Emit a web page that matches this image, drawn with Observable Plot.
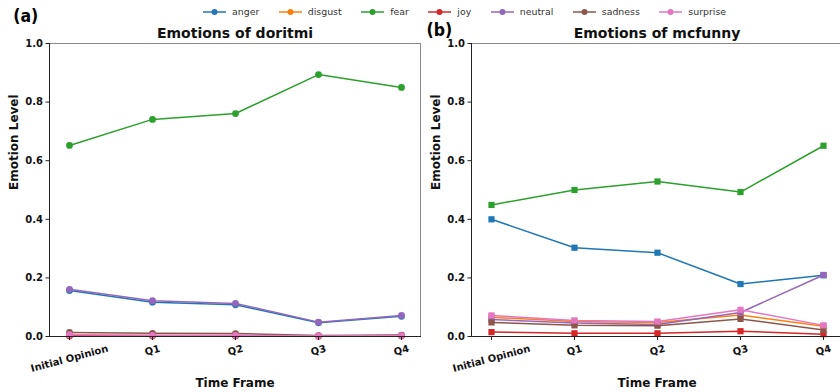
<!DOCTYPE html>
<html><head><meta charset="utf-8">
<script src="https://cdn.jsdelivr.net/npm/d3@7"></script>
<script src="https://cdn.jsdelivr.net/npm/@observablehq/plot@0.6"></script>
<style>
body{margin:0;background:#fff}
#wrap{position:relative;width:840px;height:392px;overflow:hidden;background:#fff}
#wrap > svg{position:absolute;top:0}
#legend{position:absolute;left:203px;top:6px;display:flex;align-items:center;font-family:"DejaVu Sans";font-size:9.4px;color:#333;line-height:12px;z-index:2}
#legend .item{display:flex;align-items:center;margin-right:19.5px}
#legend svg{margin-right:6px;display:block}
</style></head>
<body><div id="wrap"><div id="legend"></div></div>
<script>
const timeFrames = ["Initial Opinion", "Q1", "Q2", "Q3", "Q4"];
const emotions = ["anger", "disgust", "fear", "joy", "neutral", "sadness", "surprise"];
const emotionColors = ["#1f77b4", "#ff7f0e", "#2ca02c", "#d62728", "#9467bd", "#8c564b", "#e377c2"];
const yTicks = [0, 0.2, 0.4, 0.6, 0.8, 1.0];
const panelLetters = ["(a)", "(b)"];
const panelTitles = ["Emotions of doritmi", "Emotions of mcfunny"];
const xLabel = "Time Frame";
const yLabel = "Emotion Level";

// doritmi (panel a)
const doritmiAnger    = [0.157, 0.117, 0.108, 0.047, 0.069];
const doritmiDisgust  = [0.004, 0.003, 0.003, 0.002, 0.003];
const doritmiFear     = [0.652, 0.741, 0.761, 0.894, 0.850];
const doritmiJoy      = [0.002, 0.002, 0.002, 0.001, 0.002];
const doritmiNeutral  = [0.161, 0.122, 0.113, 0.049, 0.072];
const doritmiSadness  = [0.014, 0.011, 0.010, 0.003, 0.005];
const doritmiSurprise = [0.006, 0.004, 0.004, 0.002, 0.003];

// mcfunny (panel b)
const mcfunnyAnger    = [0.400, 0.303, 0.286, 0.179, 0.209];
const mcfunnyDisgust  = [0.066, 0.051, 0.048, 0.073, 0.035];
const mcfunnyFear     = [0.449, 0.500, 0.529, 0.493, 0.651];
const mcfunnyJoy      = [0.015, 0.011, 0.011, 0.018, 0.008];
const mcfunnyNeutral  = [0.058, 0.046, 0.041, 0.082, 0.210];
const mcfunnySadness  = [0.048, 0.038, 0.037, 0.060, 0.022];
const mcfunnySurprise = [0.072, 0.055, 0.051, 0.091, 0.038];

const doritmiSeries = [doritmiAnger, doritmiDisgust, doritmiFear, doritmiJoy, doritmiNeutral, doritmiSadness, doritmiSurprise];
const mcfunnySeries = [mcfunnyAnger, mcfunnyDisgust, mcfunnyFear, mcfunnyJoy, mcfunnyNeutral, mcfunnySadness, mcfunnySurprise];

const wrap = document.getElementById("wrap");
const ctx = document.createElement("canvas").getContext("2d");
const TICK_FS = 10;
ctx.font = `bold ${TICK_FS}px "DejaVu Sans"`;
const s15 = Math.sin(15 * Math.PI / 180), c15 = Math.cos(15 * Math.PI / 180);

function makePanel(series, title, letter, symbol, r, cfg) {
  const rows = emotions.flatMap((e, i) => series[i].map((v, j) => ({emotion: e, time: timeFrames[j], value: v})));
  const marks = [Plot.frame({stroke: "#8a8a8a", strokeWidth: 1})];
  for (const e of emotions) {
    const d = rows.filter(r => r.emotion === e);
    marks.push(Plot.line(d, {x: "time", y: "value", stroke: "emotion", strokeWidth: 1.5}));
    marks.push(Plot.dot(d, {x: "time", y: "value", fill: "emotion", symbol, r}));
  }
  marks.push(Plot.frame({anchor: "left", stroke: "#222"}));
  marks.push(Plot.frame({anchor: "bottom", stroke: "#222"}));
  marks.push(Plot.axisY({ticks: yTicks, tickFormat: d3.format(".1f"), tickSize: 3.5, tickPadding: 3, label: null, stroke: "#222", fill: "#111"}));
  marks.push(Plot.axisX({tickSize: 4, tickFormat: () => "", label: null, stroke: "#222"}));
  for (const t of timeFrames) {
    const w = ctx.measureText(t).width;
    const h = w * s15 + TICK_FS * c15;
    marks.push(Plot.text([t], {x: d => d, frameAnchor: "bottom", rotate: -15, lineAnchor: "middle", dy: 7 + h / 2, fill: "#111"}));
  }
  marks.push(Plot.text([title], {frameAnchor: "top", lineAnchor: "bottom", dy: -5.5, fontSize: 14, fill: "#111"}));
  marks.push(Plot.text([xLabel], {frameAnchor: "bottom", lineAnchor: "bottom", dy: 50, fontSize: 12, fill: "#111"}));
  marks.push(Plot.text([yLabel], {frameAnchor: "left", rotate: -90, lineAnchor: "middle", dx: -35.3, fontSize: 12, fill: "#111"}));
  marks.push(Plot.text([letter], {frameAnchor: "top-left", textAnchor: "start", lineAnchor: "bottom", dx: cfg.letterDx, dy: cfg.letterDy, fontSize: 17.5, fontFamily: "'Liberation Sans Narrow', 'DejaVu Sans Condensed', sans-serif", fill: "#000"}));
  const svg = Plot.plot({
    width: cfg.width, height: 392,
    marginTop: 43, marginBottom: 56, marginLeft: cfg.marginLeft, marginRight: cfg.marginRight,
    x: {type: "point", domain: timeFrames, padding: 0.21},
    y: {domain: [0, 1]},
    color: {domain: emotions, range: emotionColors},
    style: {fontFamily: "DejaVu Sans", fontSize: TICK_FS + "px", fontWeight: "bold", background: "transparent", color: "#111", overflow: "visible"},
    marks
  });
  svg.style.left = cfg.left + "px";
  return svg;
}

wrap.appendChild(makePanel(doritmiSeries, panelTitles[0], panelLetters[0], "circle", 3.4,
  {left: 0, width: 421, marginLeft: 49, marginRight: 1, letterDx: -36.3, letterDy: -21.6}));
wrap.appendChild(makePanel(mcfunnySeries, panelTitles[1], panelLetters[1], "square", 3.5,
  {left: 421, width: 421, marginLeft: 50, marginRight: 0, letterDx: -45, letterDy: -7.3}));

const legend = document.getElementById("legend");
emotions.forEach((e, i) => {
  const c = emotionColors[i];
  const item = document.createElement("div");
  item.className = "item";
  item.innerHTML = `<svg width="23" height="10"><line x1="0" y1="5" x2="23" y2="5" stroke="${c}" stroke-width="1.5"/><circle cx="11.5" cy="5" r="3" fill="${c}"/></svg><span>${e}</span>`;
  legend.appendChild(item);
});
</script>
</body></html>
